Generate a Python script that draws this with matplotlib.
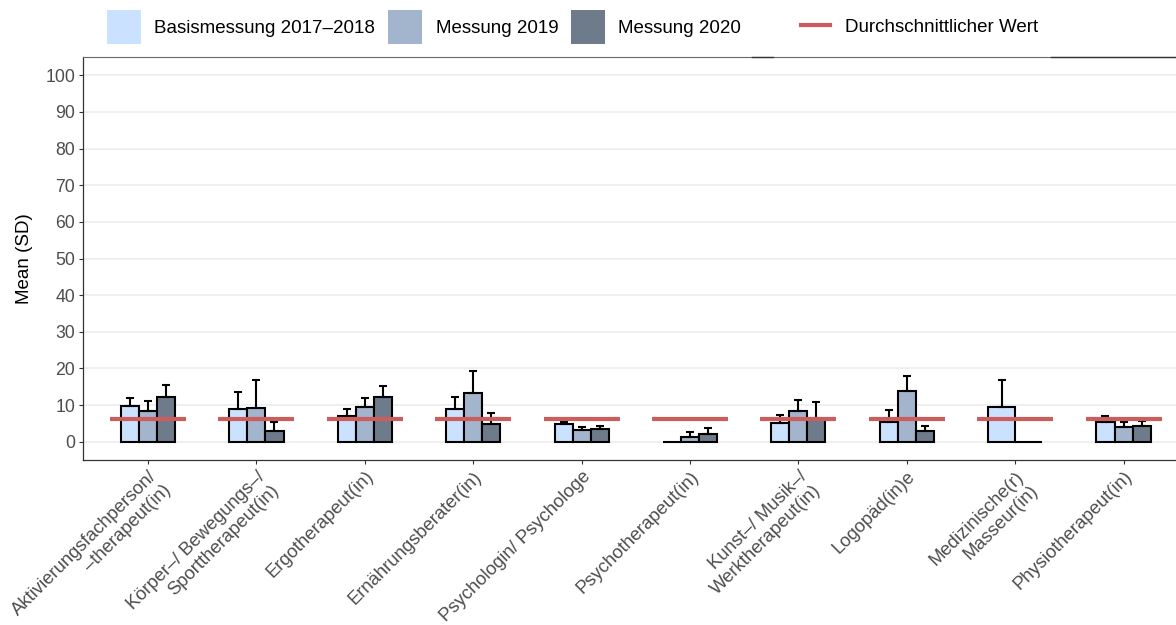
import numpy as np
import matplotlib
matplotlib.use("Agg")
import matplotlib.pyplot as plt
from matplotlib.patches import Patch
from matplotlib.lines import Line2D

plt.rcParams["font.family"] = ["Liberation Sans", "DejaVu Sans"]

# --- data -------------------------------------------------------------
categories = [
    "Aktivierungsfachperson/\n\u2013therapeut(in)",
    "Körper\u2013/ Bewegungs\u2013/\nSporttherapeut(in)",
    "Ergotherapeut(in)",
    "Ernährungsberater(in)",
    "Psychologin/ Psychologe",
    "Psychotherapeut(in)",
    "Kunst\u2013/ Musik\u2013/\nWerktherapeut(in)",
    "Logopäd(in)e",
    "Medizinische(r)\nMasseur(in)",
    "Physiotherapeut(in)",
]
series = ["Basismessung 2017\u20132018", "Messung 2019", "Messung 2020"]
colors = ["#CAE1FF", "#A2B5CD", "#6E7B8B"]

mean_basis = [9.7, 8.8, 7.0, 8.8, 4.7, 0.0, 5.2, 5.5, 9.6, 5.5]
sd_basis = [2.1, 4.7, 1.8, 3.3, 0.8, np.nan, 2.0, 3.2, 7.1, 1.6]
mean_2019 = [8.4, 9.3, 9.4, 13.4, 3.2, 1.4, 8.4, 13.8, 0.0, 3.9]
sd_2019 = [2.6, 7.4, 2.6, 6.0, 0.9, 1.3, 2.9, 4.1, np.nan, 1.4]
mean_2020 = [12.2, 2.9, 12.2, 4.9, 3.4, 2.0, 6.3, 2.8, np.nan, 4.4]
sd_2020 = [3.3, 2.6, 2.9, 2.9, 0.8, 1.8, 4.5, 1.4, np.nan, 1.2]

average_value = 6.3
avg_label = "Durchschnittlicher Wert"

y_ticks = list(range(0, 101, 10))

means = np.array([mean_basis, mean_2019, mean_2020], dtype=float)
sds = np.array([sd_basis, sd_2019, sd_2020], dtype=float)

# --- figure -----------------------------------------------------------
W, H = 1176, 625
fig = plt.figure(figsize=(W / 100, H / 100), dpi=100)
ax = fig.add_axes([83 / W, 1 - 460 / H, (1188.6 - 83) / W, (460 - 57) / H])

n = len(categories)
x = np.arange(1, n + 1)
dodge = 0.5
edge_lw = 1.5

for i in range(n):
    present = [k for k in range(3) if not np.isnan(means[k, i])]
    w = dodge / len(present)
    for j, k in enumerate(present):
        xc = x[i] - dodge / 2 + w * (j + 0.5)
        ax.bar(xc, means[k, i], width=w, color=colors[k], edgecolor="black",
               linewidth=edge_lw, zorder=3)
        if not np.isnan(sds[k, i]):
            ax.errorbar(xc, means[k, i], yerr=[[0], [sds[k, i]]], fmt="none",
                        ecolor="black", elinewidth=1.5, capsize=2.6,
                        capthick=1.5, zorder=4)

# average reference line per category
for i in range(n):
    ax.hlines(average_value, x[i] - 0.35, x[i] + 0.35, color="#CD5C5C",
              linewidth=3.0, zorder=5)

ax.set_xlim(0.4, n + 0.6)
ax.set_ylim(-5, 105)
ax.set_yticks(y_ticks)
ax.set_xticks(x)
ax.set_xticklabels(categories, rotation=45, ha="right", va="top",
                   rotation_mode="anchor", multialignment="right")

ax.yaxis.grid(True, color="#EBEBEB", linewidth=1.1, zorder=0)
ax.xaxis.grid(False)
ax.set_axisbelow(True)

ax.tick_params(axis="both", length=3.2, width=0.8, color="#333333",
               labelcolor="#4D4D4D", pad=2.5)
ax.tick_params(axis="y", labelsize=12.7)
ax.tick_params(axis="x", labelsize=13.3)
for s in ["left", "bottom"]:
    ax.spines[s].set_color("#333333")
    ax.spines[s].set_linewidth(0.9)
ax.spines["top"].set_color("#6A6A6A")
ax.spines["top"].set_linewidth(0.8)
ax.spines["right"].set_visible(False)

ax.set_ylabel("Mean (SD)", fontsize=13.5, color="black")
ax.yaxis.set_label_coords((33 - 83) / (1188.6 - 83), 0.5)

# darker segments along the top border
for x0, x1 in [(752, 773), (1051, 1176)]:
    fig.add_artist(Line2D([x0 / W, x1 / W], [1 - 56.6 / H] * 2,
                          color="#333333", linewidth=1.0))

# --- legends ------------------------------------------------------------
fill_handles = [Patch(facecolor=c, edgecolor="none") for c in colors]
leg1 = fig.legend(fill_handles, series, loc="center left",
                  bbox_to_anchor=(107 / W, 1 - 27 / H), ncol=3,
                  frameon=False, fontsize=13.5, borderpad=0,
                  handlelength=1.82, handleheight=2.4,
                  handletextpad=0.7, columnspacing=0.7, borderaxespad=0)
line_handle = [Line2D([0], [0], color="#CD5C5C", linewidth=3.0)]
leg2 = fig.legend(line_handle, [avg_label], loc="center left",
                  bbox_to_anchor=(801 / W, 1 - 27 / H), frameon=False,
                  fontsize=13.5, borderpad=0, handlelength=1.55,
                  handletextpad=0.8, borderaxespad=0)

fig.savefig("out.png", dpi=100)
